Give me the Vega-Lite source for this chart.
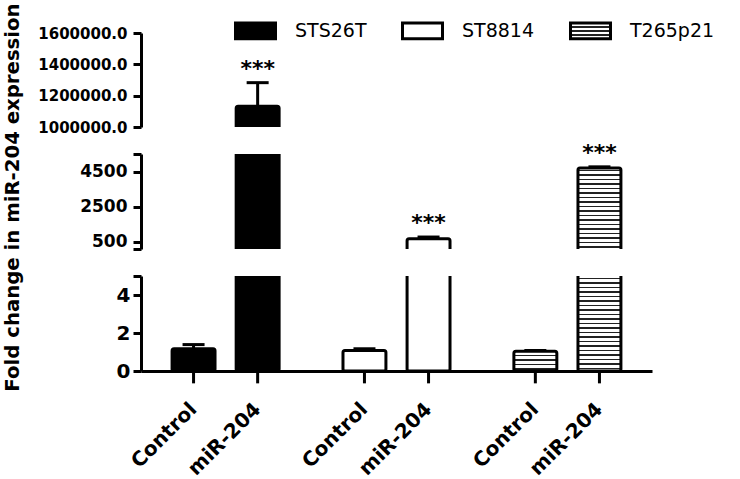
{
  "$schema": "https://vega.github.io/schema/vega-lite/v6.json",
  "background": "white",
  "padding": {"left": 1, "top": 2, "right": 5, "bottom": 5},
  "bounds": "flush",
  "data": {"values": [
    {"line": "STS26T", "treatment": "Control", "mean": 1.17, "upper": 1.39, "sig": ""},
    {"line": "STS26T", "treatment": "miR-204", "mean": 1132000, "upper": 1283000, "sig": "***"},
    {"line": "ST8814", "treatment": "Control", "mean": 1.08, "upper": 1.17, "sig": ""},
    {"line": "ST8814", "treatment": "miR-204", "mean": 680, "upper": 780, "sig": "***"},
    {"line": "T265p21", "treatment": "Control", "mean": 1.04, "upper": 1.08, "sig": ""},
    {"line": "T265p21", "treatment": "miR-204", "mean": 4700, "upper": 4770, "sig": "***"}
  ]},
  "config": {
    "view": {"stroke": null},
    "font": "DejaVu Sans",
    "axis": {"domainColor": "black", "domainWidth": 3, "tickColor": "black", "tickWidth": 3, "tickSize": 8, "labelColor": "black", "labelFont": "DejaVu Sans", "labelFontWeight": "bold", "grid": false, "titleColor": "black"}
  },
  "spacing": 27,
  "resolve": {"scale": {"y": "independent", "fill": "independent"}},
  "vconcat": [
    {
      "width": 511, "height": 94,
      "encoding": {
        "x": {"field": "line", "type": "nominal", "scale": {"domain": ["STS26T", "ST8814", "T265p21"], "paddingInner": 0.25, "paddingOuter": 0.12}, "axis": null},
        "xOffset": {"field": "treatment", "type": "nominal", "scale": {"domain": ["Control", "miR-204"], "paddingInner": 0.33, "paddingOuter": 0.165}}
      },
      "layer": [
        {
          "mark": {"type": "bar", "clip": true, "stroke": "black", "strokeWidth": 3, "cornerRadius": 2, "strokeJoin": "round"},
          "encoding": {
            "y": {"field": "mean", "type": "quantitative", "scale": {"domain": [1000000, 1600000], "nice": false, "zero": false},
                  "axis": {"orient": "left", "values": [1000000, 1200000, 1400000, 1600000], "format": ".1f", "title": null, "labelFontSize": 15, "labelPadding": 6}},
            "y2": {"datum": 0},
            "fill": {"field": "line", "type": "nominal",
                     "scale": {"domain": ["STS26T", "ST8814", "T265p21"], "range": ["black", "white", {"expr": "{gradient: 'linear', x1: 0, y1: 0, x2: 0, y2: 1, stops: [{offset: 0, color: 'white'}, {offset: 0.2, color: 'white'}, {offset: 0.2, color: '#222'}, {offset: 0.3, color: '#222'}, {offset: 0.3, color: 'white'}, {offset: 0.45, color: 'white'}, {offset: 0.45, color: '#222'}, {offset: 0.55, color: '#222'}, {offset: 0.55, color: 'white'}, {offset: 0.7, color: 'white'}, {offset: 0.7, color: '#222'}, {offset: 0.8, color: '#222'}, {offset: 0.8, color: 'white'}, {offset: 1, color: 'white'}]}"}]},
                     "legend": {"orient": "none", "legendX": 93, "legendY": -24, "direction": "horizontal", "title": null,
                                "symbolType": "M-1,-0.39H1V0.39H-1Z", "symbolSize": 1600, "symbolStrokeWidth": 3, "symbolStrokeColor": "black", "symbolOpacity": 1,
                                "labelFont": "DejaVu Sans", "labelFontSize": 19, "labelColor": "black", "labelOffset": 18, "columnPadding": 29, "padding": 0}}
          }
        },
        {
          "mark": {"type": "rule", "clip": true, "strokeWidth": 3, "color": "black"},
          "encoding": {
            "y": {"field": "mean", "type": "quantitative", "axis": {"orient": "left", "values": [1000000, 1200000, 1400000, 1600000], "format": ".1f", "title": null, "labelFontSize": 15, "labelPadding": 6}},
            "y2": {"field": "upper"}
          }
        },
        {
          "mark": {"type": "tick", "clip": true, "thickness": 3, "size": 22, "color": "black", "opacity": 1},
          "encoding": {
            "y": {"field": "upper", "type": "quantitative", "axis": {"orient": "left", "values": [1000000, 1200000, 1400000, 1600000], "format": ".1f", "title": null, "labelFontSize": 15, "labelPadding": 6}}
          }
        },
        {
          "transform": [{"filter": "datum.upper >= 1000000"}],
          "mark": {"type": "text", "fontSize": 22, "fontWeight": "bold", "dy": -7, "baseline": "alphabetic", "color": "black", "font": "DejaVu Sans"},
          "encoding": {
            "y": {"field": "upper", "type": "quantitative", "axis": {"orient": "left", "values": [1000000, 1200000, 1400000, 1600000], "format": ".1f", "title": null, "labelFontSize": 15, "labelPadding": 6}},
            "text": {"field": "sig"}
          }
        }
      ]
    },
    {
      "width": 511, "height": 95,
      "resolve": {"scale": {"y": "independent"}},
      "encoding": {
        "x": {"field": "line", "type": "nominal", "scale": {"domain": ["STS26T", "ST8814", "T265p21"], "paddingInner": 0.25, "paddingOuter": 0.12}, "axis": null},
        "xOffset": {"field": "treatment", "type": "nominal", "scale": {"domain": ["Control", "miR-204"], "paddingInner": 0.33, "paddingOuter": 0.165}}
      },
      "layer": [
        {
          "transform": [{"filter": "datum.line == 'T265p21' && datum.treatment == 'miR-204'"}],
          "mark": {"type": "bar", "clip": true, "fill": {"gradient": "linear", "x1": 0, "y1": 0, "x2": 0, "y2": 1, "stops": [
            {"offset": 0, "color": "white"},
            {"offset": 0.0185, "color": "white"}, {"offset": 0.0185, "color": "#222"}, {"offset": 0.0371, "color": "#222"}, {"offset": 0.0371, "color": "white"},
            {"offset": 0.0740, "color": "white"}, {"offset": 0.0740, "color": "#222"}, {"offset": 0.0926, "color": "#222"}, {"offset": 0.0926, "color": "white"},
            {"offset": 0.1296, "color": "white"}, {"offset": 0.1296, "color": "#222"}, {"offset": 0.1482, "color": "#222"}, {"offset": 0.1482, "color": "white"},
            {"offset": 0.1851, "color": "white"}, {"offset": 0.1851, "color": "#222"}, {"offset": 0.2037, "color": "#222"}, {"offset": 0.2037, "color": "white"},
            {"offset": 0.2407, "color": "white"}, {"offset": 0.2407, "color": "#222"}, {"offset": 0.2593, "color": "#222"}, {"offset": 0.2593, "color": "white"},
            {"offset": 0.2963, "color": "white"}, {"offset": 0.2963, "color": "#222"}, {"offset": 0.3149, "color": "#222"}, {"offset": 0.3149, "color": "white"},
            {"offset": 0.3518, "color": "white"}, {"offset": 0.3518, "color": "#222"}, {"offset": 0.3704, "color": "#222"}, {"offset": 0.3704, "color": "white"},
            {"offset": 0.4074, "color": "white"}, {"offset": 0.4074, "color": "#222"}, {"offset": 0.4260, "color": "#222"}, {"offset": 0.4260, "color": "white"},
            {"offset": 0.4629, "color": "white"}, {"offset": 0.4629, "color": "#222"}, {"offset": 0.4815, "color": "#222"}, {"offset": 0.4815, "color": "white"},
            {"offset": 0.5185, "color": "white"}, {"offset": 0.5185, "color": "#222"}, {"offset": 0.5371, "color": "#222"}, {"offset": 0.5371, "color": "white"},
            {"offset": 0.5740, "color": "white"}, {"offset": 0.5740, "color": "#222"}, {"offset": 0.5926, "color": "#222"}, {"offset": 0.5926, "color": "white"},
            {"offset": 0.6296, "color": "white"}, {"offset": 0.6296, "color": "#222"}, {"offset": 0.6482, "color": "#222"}, {"offset": 0.6482, "color": "white"},
            {"offset": 0.6851, "color": "white"}, {"offset": 0.6851, "color": "#222"}, {"offset": 0.7037, "color": "#222"}, {"offset": 0.7037, "color": "white"},
            {"offset": 0.7407, "color": "white"}, {"offset": 0.7407, "color": "#222"}, {"offset": 0.7593, "color": "#222"}, {"offset": 0.7593, "color": "white"},
            {"offset": 0.7963, "color": "white"}, {"offset": 0.7963, "color": "#222"}, {"offset": 0.8149, "color": "#222"}, {"offset": 0.8149, "color": "white"},
            {"offset": 0.8518, "color": "white"}, {"offset": 0.8518, "color": "#222"}, {"offset": 0.8704, "color": "#222"}, {"offset": 0.8704, "color": "white"},
            {"offset": 0.9074, "color": "white"}, {"offset": 0.9074, "color": "#222"}, {"offset": 0.9260, "color": "#222"}, {"offset": 0.9260, "color": "white"},
            {"offset": 0.9629, "color": "white"}, {"offset": 0.9629, "color": "#222"}, {"offset": 0.9815, "color": "#222"}, {"offset": 0.9815, "color": "white"},
            {"offset": 1, "color": "white"}]}},
          "encoding": {
            "y": {"field": "mean", "type": "quantitative", "scale": {"domain": [100, 5500], "nice": false, "zero": false, "clamp": true}, "axis": null},
            "y2": {"datum": 0}
          }
        },
        {
          "layer": [
            {
              "mark": {"type": "bar", "clip": true, "stroke": "black", "strokeWidth": 3, "cornerRadius": 2, "strokeJoin": "round"},
              "encoding": {
                "y": {"field": "mean", "type": "quantitative", "scale": {"domain": [100, 5500], "nice": false, "zero": false},
                      "axis": {"orient": "left", "values": [100, 500, 2500, 4500, 5500], "labelExpr": "datum.value == 100 || datum.value == 5500 ? '' : datum.label", "format": "d", "labelFontSize": 17, "labelPadding": 6, "title": "Fold change in miR-204 expression", "titleFont": "DejaVu Sans", "titleFontWeight": "bold", "titleFontSize": 19.7, "titleX": -129, "titleY": 43, "titleAngle": 270, "titleAlign": "center", "titleBaseline": "middle"}},
                "y2": {"datum": 0},
                "fill": {"field": "line", "type": "nominal", "scale": {"domain": ["STS26T", "ST8814", "T265p21"], "range": ["black", "white", "transparent"]}, "legend": null}
              }
            },
            {
              "mark": {"type": "rule", "clip": true, "strokeWidth": 3, "color": "black"},
              "encoding": {
                "y": {"field": "mean", "type": "quantitative", "axis": {"orient": "left", "values": [100, 500, 2500, 4500, 5500], "labelExpr": "datum.value == 100 || datum.value == 5500 ? '' : datum.label", "format": "d", "labelFontSize": 17, "labelPadding": 6, "title": "Fold change in miR-204 expression", "titleFont": "DejaVu Sans", "titleFontWeight": "bold", "titleFontSize": 19.7, "titleX": -129, "titleY": 43, "titleAngle": 270, "titleAlign": "center", "titleBaseline": "middle"}},
                "y2": {"field": "upper"}
              }
            },
            {
              "mark": {"type": "tick", "clip": true, "thickness": 3, "size": 22, "color": "black", "opacity": 1},
              "encoding": {
                "y": {"field": "upper", "type": "quantitative", "axis": {"orient": "left", "values": [100, 500, 2500, 4500, 5500], "labelExpr": "datum.value == 100 || datum.value == 5500 ? '' : datum.label", "format": "d", "labelFontSize": 17, "labelPadding": 6, "title": "Fold change in miR-204 expression", "titleFont": "DejaVu Sans", "titleFontWeight": "bold", "titleFontSize": 19.7, "titleX": -129, "titleY": 43, "titleAngle": 270, "titleAlign": "center", "titleBaseline": "middle"}}
              }
            },
            {
              "transform": [{"filter": "datum.treatment == 'miR-204' && datum.upper < 5500"}],
              "mark": {"type": "text", "fontSize": 22, "fontWeight": "bold", "dy": -7, "baseline": "alphabetic", "color": "black", "font": "DejaVu Sans"},
              "encoding": {
                "y": {"field": "upper", "type": "quantitative", "axis": {"orient": "left", "values": [100, 500, 2500, 4500, 5500], "labelExpr": "datum.value == 100 || datum.value == 5500 ? '' : datum.label", "format": "d", "labelFontSize": 17, "labelPadding": 6, "title": "Fold change in miR-204 expression", "titleFont": "DejaVu Sans", "titleFontWeight": "bold", "titleFontSize": 19.7, "titleX": -129, "titleY": 43, "titleAngle": 270, "titleAlign": "center", "titleBaseline": "middle"}},
                "text": {"field": "sig"}
              }
            }
          ]
        }
      ]
    },
    {
      "width": 511, "height": 95,
      "resolve": {"scale": {"y": "independent"}},
      "encoding": {
        "x": {"field": "line", "type": "nominal", "scale": {"domain": ["STS26T", "ST8814", "T265p21"], "paddingInner": 0.25, "paddingOuter": 0.12}, "axis": {"labels": false, "ticks": false, "domain": true, "title": null}},
        "xOffset": {"field": "treatment", "type": "nominal", "scale": {"domain": ["Control", "miR-204"], "paddingInner": 0.33, "paddingOuter": 0.165}}
      },
      "layer": [
        {
          "layer": [
            {
              "transform": [{"filter": "datum.line == 'T265p21' && datum.treatment == 'Control'"}],
              "mark": {"type": "bar", "clip": true, "fill": {"gradient": "linear", "x1": 0, "y1": 0, "x2": 0, "y2": 1, "stops": [
                {"offset": 0, "color": "white"},
                {"offset": 0.1875, "color": "white"}, {"offset": 0.1875, "color": "#222"}, {"offset": 0.2625, "color": "#222"}, {"offset": 0.2625, "color": "white"},
                {"offset": 0.4125, "color": "white"}, {"offset": 0.4125, "color": "#222"}, {"offset": 0.4875, "color": "#222"}, {"offset": 0.4875, "color": "white"},
                {"offset": 0.6375, "color": "white"}, {"offset": 0.6375, "color": "#222"}, {"offset": 0.7125, "color": "#222"}, {"offset": 0.7125, "color": "white"},
                {"offset": 0.8625, "color": "white"}, {"offset": 0.8625, "color": "#222"}, {"offset": 0.9375, "color": "#222"}, {"offset": 0.9375, "color": "white"},
                {"offset": 1, "color": "white"}]}},
              "encoding": {
                "y": {"field": "mean", "type": "quantitative", "scale": {"domain": [0, 5], "nice": false, "zero": false, "clamp": true}, "axis": null},
                "y2": {"datum": 0}
              }
            },
            {
              "transform": [{"filter": "datum.line == 'T265p21' && datum.treatment == 'miR-204'"}],
              "mark": {"type": "bar", "clip": true, "fill": {"gradient": "linear", "x1": 0, "y1": 0, "x2": 0, "y2": 1, "stops": [
                {"offset": 0, "color": "white"},
                {"offset": 0.0158, "color": "white"}, {"offset": 0.0158, "color": "#222"}, {"offset": 0.0318, "color": "#222"}, {"offset": 0.0318, "color": "white"},
                {"offset": 0.0634, "color": "white"}, {"offset": 0.0634, "color": "#222"}, {"offset": 0.0794, "color": "#222"}, {"offset": 0.0794, "color": "white"},
                {"offset": 0.1111, "color": "white"}, {"offset": 0.1111, "color": "#222"}, {"offset": 0.1271, "color": "#222"}, {"offset": 0.1271, "color": "white"},
                {"offset": 0.1587, "color": "white"}, {"offset": 0.1587, "color": "#222"}, {"offset": 0.1747, "color": "#222"}, {"offset": 0.1747, "color": "white"},
                {"offset": 0.2063, "color": "white"}, {"offset": 0.2063, "color": "#222"}, {"offset": 0.2223, "color": "#222"}, {"offset": 0.2223, "color": "white"},
                {"offset": 0.2539, "color": "white"}, {"offset": 0.2539, "color": "#222"}, {"offset": 0.2699, "color": "#222"}, {"offset": 0.2699, "color": "white"},
                {"offset": 0.3015, "color": "white"}, {"offset": 0.3015, "color": "#222"}, {"offset": 0.3175, "color": "#222"}, {"offset": 0.3175, "color": "white"},
                {"offset": 0.3491, "color": "white"}, {"offset": 0.3491, "color": "#222"}, {"offset": 0.3651, "color": "#222"}, {"offset": 0.3651, "color": "white"},
                {"offset": 0.3968, "color": "white"}, {"offset": 0.3968, "color": "#222"}, {"offset": 0.4128, "color": "#222"}, {"offset": 0.4128, "color": "white"},
                {"offset": 0.4444, "color": "white"}, {"offset": 0.4444, "color": "#222"}, {"offset": 0.4604, "color": "#222"}, {"offset": 0.4604, "color": "white"},
                {"offset": 0.4920, "color": "white"}, {"offset": 0.4920, "color": "#222"}, {"offset": 0.5080, "color": "#222"}, {"offset": 0.5080, "color": "white"},
                {"offset": 0.5396, "color": "white"}, {"offset": 0.5396, "color": "#222"}, {"offset": 0.5556, "color": "#222"}, {"offset": 0.5556, "color": "white"},
                {"offset": 0.5872, "color": "white"}, {"offset": 0.5872, "color": "#222"}, {"offset": 0.6032, "color": "#222"}, {"offset": 0.6032, "color": "white"},
                {"offset": 0.6349, "color": "white"}, {"offset": 0.6349, "color": "#222"}, {"offset": 0.6509, "color": "#222"}, {"offset": 0.6509, "color": "white"},
                {"offset": 0.6825, "color": "white"}, {"offset": 0.6825, "color": "#222"}, {"offset": 0.6985, "color": "#222"}, {"offset": 0.6985, "color": "white"},
                {"offset": 0.7301, "color": "white"}, {"offset": 0.7301, "color": "#222"}, {"offset": 0.7461, "color": "#222"}, {"offset": 0.7461, "color": "white"},
                {"offset": 0.7777, "color": "white"}, {"offset": 0.7777, "color": "#222"}, {"offset": 0.7937, "color": "#222"}, {"offset": 0.7937, "color": "white"},
                {"offset": 0.8253, "color": "white"}, {"offset": 0.8253, "color": "#222"}, {"offset": 0.8413, "color": "#222"}, {"offset": 0.8413, "color": "white"},
                {"offset": 0.8730, "color": "white"}, {"offset": 0.8730, "color": "#222"}, {"offset": 0.8890, "color": "#222"}, {"offset": 0.8890, "color": "white"},
                {"offset": 0.9206, "color": "white"}, {"offset": 0.9206, "color": "#222"}, {"offset": 0.9366, "color": "#222"}, {"offset": 0.9366, "color": "white"},
                {"offset": 0.9682, "color": "white"}, {"offset": 0.9682, "color": "#222"}, {"offset": 0.9842, "color": "#222"}, {"offset": 0.9842, "color": "white"},
                {"offset": 1, "color": "white"}]}},
              "encoding": {
                "y": {"field": "mean", "type": "quantitative", "axis": null},
                "y2": {"datum": 0}
              }
            }
          ]
        },
        {
          "layer": [
            {
              "mark": {"type": "bar", "clip": true, "stroke": "black", "strokeWidth": 3, "cornerRadius": 2, "strokeJoin": "round"},
              "encoding": {
                "y": {"field": "mean", "type": "quantitative", "scale": {"domain": [0, 5], "nice": false, "zero": false},
                      "axis": {"orient": "left", "values": [0, 2, 4, 5], "labelExpr": "datum.value == 5 ? '' : datum.label", "format": "d", "labelFontSize": 20, "labelPadding": 3, "title": null}},
                "y2": {"datum": 0},
                "fill": {"field": "line", "type": "nominal", "scale": {"domain": ["STS26T", "ST8814", "T265p21"], "range": ["black", "white", "transparent"]}, "legend": null}
              }
            },
            {
              "mark": {"type": "rule", "clip": true, "strokeWidth": 3, "color": "black"},
              "encoding": {
                "y": {"field": "mean", "type": "quantitative", "axis": {"orient": "left", "values": [0, 2, 4, 5], "labelExpr": "datum.value == 5 ? '' : datum.label", "format": "d", "labelFontSize": 20, "labelPadding": 3, "title": null}},
                "y2": {"field": "upper"}
              }
            },
            {
              "mark": {"type": "tick", "clip": true, "thickness": 3, "size": 22, "color": "black", "opacity": 1},
              "encoding": {
                "y": {"field": "upper", "type": "quantitative", "axis": {"orient": "left", "values": [0, 2, 4, 5], "labelExpr": "datum.value == 5 ? '' : datum.label", "format": "d", "labelFontSize": 20, "labelPadding": 3, "title": null}}
              }
            },
            {
              "mark": {"type": "rule", "strokeWidth": 3, "color": "black"},
              "encoding": {
                "y": {"datum": 0, "axis": {"orient": "left", "values": [0, 2, 4, 5], "labelExpr": "datum.value == 5 ? '' : datum.label", "format": "d", "labelFontSize": 20, "labelPadding": 3, "title": null}},
                "y2": {"datum": -0.65}
              }
            },
            {
              "mark": {"type": "text", "angle": 315, "align": "right", "baseline": "top", "dx": -25, "dy": 15, "fontSize": 20, "fontWeight": "bold", "font": "DejaVu Sans", "color": "black"},
              "encoding": {
                "y": {"datum": 0, "axis": {"orient": "left", "values": [0, 2, 4, 5], "labelExpr": "datum.value == 5 ? '' : datum.label", "format": "d", "labelFontSize": 20, "labelPadding": 3, "title": null}},
                "text": {"field": "treatment"}
              }
            }
          ]
        }
      ]
    }
  ]
}
